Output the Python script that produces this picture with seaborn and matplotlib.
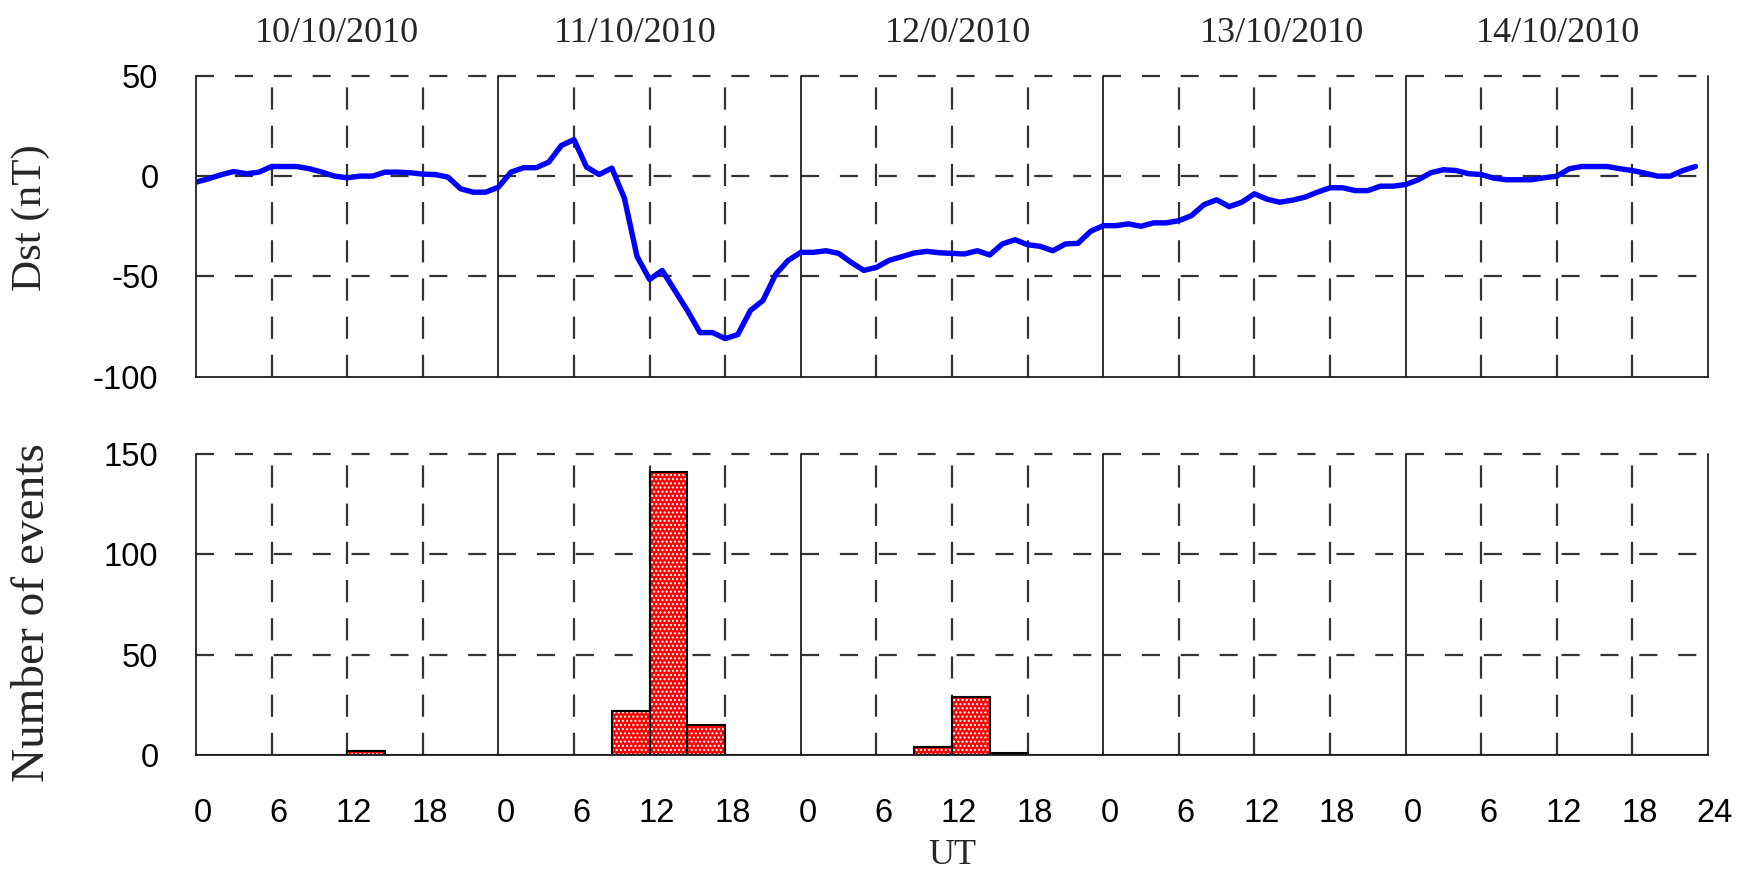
import numpy as np
import matplotlib
matplotlib.use("Agg")
import matplotlib.pyplot as plt
import seaborn as sns
from matplotlib.transforms import ScaledTranslation, blended_transform_factory

# ---------------- data ----------------
hours = list(range(120))
dst = [
    -3, -1.3, 0.7, 2.3, 1.2, 2, 4.8, 4.8, 4.8, 3.7, 2, 0,
    -0.8, 0, 0, 2, 2, 1.7, 1, 0.8, -0.5, -6.3, -8, -8,
    -5.5, 2, 4.2, 4.2, 7, 15.3, 18.2, 4.5, 0.8, 4, -11, -40,
    -51.5, -47, -57, -67, -78, -78, -81, -79, -67, -62, -49, -42,
    -38, -38, -37.2, -38.5, -43, -47, -45.5, -42, -40.2, -38.3, -37.5, -38.2,
    -38.5, -38.8, -37.2, -39.3, -33.8, -31.7, -34.2, -35, -37.2, -33.8, -33.5, -27.5,
    -24.7, -24.7, -23.8, -25, -23.3, -23.3, -22.2, -19.7, -14.2, -11.8, -15.2, -13,
    -8.8, -11.5, -13, -12, -10.5, -8, -5.8, -5.8, -7.2, -7.2, -5, -5,
    -4.2, -1.8, 1.7, 3.2, 2.8, 1.2, 0.8, -1, -1.8, -1.8, -1.8, -0.8,
    0, 3.7, 4.8, 4.8, 4.8, 3.7, 2.8, 1.5, 0, 0, 2.8, 4.8,
]
day_labels = ["10/10/2010", "11/10/2010", "12/0/2010", "13/10/2010", "14/10/2010"]
day_label_hours = [11.2, 34.9, 60.5, 86.2, 108.1]
bin_centers = [13.5, 34.5, 37.5, 40.5, 58.5, 61.5, 64.5]
event_counts = [2, 22, 141, 15, 4, 29, 1]
bin_edges = list(range(0, 121, 3))
tick_hours = list(range(0, 121, 6))
tick_labels = [str(h % 24) if h < 120 else "24" for h in tick_hours]
dst_yticks = [-100, -50, 0, 50]
evt_yticks = [0, 50, 100, 150]

# ---------------- style ----------------
sns.set_style("white")
plt.rcParams['font.family'] = ['Liberation Sans', 'DejaVu Sans']
plt.rcParams['axes.unicode_minus'] = False
plt.rcParams['hatch.linewidth'] = 1.0
plt.rcParams['lines.scale_dashes'] = False
SERIF = ['Liberation Serif', 'DejaVu Serif']
GRID = '#333333'
SOLID = '#1e1e1e'
H_DASH = (0, (13, 15))
V_DASH = (0, (16, 11.5))

fig = plt.figure(figsize=(17.42, 8.72), dpi=100)
ax1 = fig.add_axes([0.1125, 0.568, 0.868, 0.345])
ax2 = fig.add_axes([0.1125, 0.1342, 0.868, 0.3452])


def style_axes(ax, yticks):
    ax.set_xlim(0, 120)
    ax.set_ylim(yticks[0], yticks[-1])
    for s in ['top', 'right']:
        ax.spines[s].set_visible(False)
    for s in ['left', 'bottom']:
        ax.spines[s].set_color(SOLID)
        ax.spines[s].set_linewidth(1.3)
        ax.spines[s].set_zorder(4)
    for y in yticks[1:]:
        for d in range(5):
            ax.hlines(y, d * 24, (d + 1) * 24, colors=GRID, linestyles=[H_DASH],
                      lw=1.6, zorder=1, clip_on=False)
    for d in range(1, 6):
        ax.axvline(d * 24, color=SOLID, lw=1.3, zorder=1, clip_on=False)
    for h in range(6, 120, 6):
        if h % 24:
            ax.axvline(h, color=GRID, lw=1.6, linestyle=V_DASH, zorder=1)
    ax.set_xticks(tick_hours)
    ax.set_yticks(yticks)
    ax.tick_params(axis='both', direction='out', length=11, width=1.3,
                   color=SOLID, labelsize=23.5, labelcolor='black')
    ax.tick_params(axis='x', pad=20)
    ax.tick_params(axis='y', pad=16)
    ax.set_xlabel('')
    ax.set_ylabel('')


# ---------------- top panel: Dst ----------------
sns.lineplot(x=hours, y=dst, ax=ax1, color='#0000FF', lw=3.9, zorder=3)
style_axes(ax1, dst_yticks)
ax1.tick_params(axis='x', labelbottom=False)

trans = blended_transform_factory(ax1.transData, ax1.transAxes)
for lab, h in zip(day_labels, day_label_hours):
    ax1.text(h, 1.112, lab, transform=trans, ha='center', va='baseline',
             fontsize=26, family=SERIF)
ax1.text(-0.109, 0.53, 'Dst (nT)', transform=ax1.transAxes, rotation=90,
         ha='center', va='center', fontsize=31, family=SERIF)

# ---------------- bottom panel: events ----------------
sns.histplot(x=bin_centers, weights=event_counts, bins=bin_edges, ax=ax2,
             color='#FF0000', edgecolor='white', linewidth=0, hatch='....',
             alpha=1, zorder=2)
sns.histplot(x=bin_centers, weights=event_counts, bins=bin_edges, ax=ax2,
             fill=False, color='black', linewidth=1.5, zorder=3)
style_axes(ax2, evt_yticks)
ax2.set_xticklabels(tick_labels)
offset = ScaledTranslation(0.07, 0, fig.dpi_scale_trans)
for lbl in ax2.get_xticklabels():
    lbl.set_transform(lbl.get_transform() + offset)

ax2.text(-0.108, 0.472, 'Number of events', transform=ax2.transAxes, rotation=90,
         ha='center', va='center', fontsize=34, family=SERIF)
ax2.text(0.5, -0.335, 'UT', transform=ax2.transAxes, ha='center', va='center',
         fontsize=26, family=SERIF)

fig.savefig('out.png', dpi=100, facecolor='white')
